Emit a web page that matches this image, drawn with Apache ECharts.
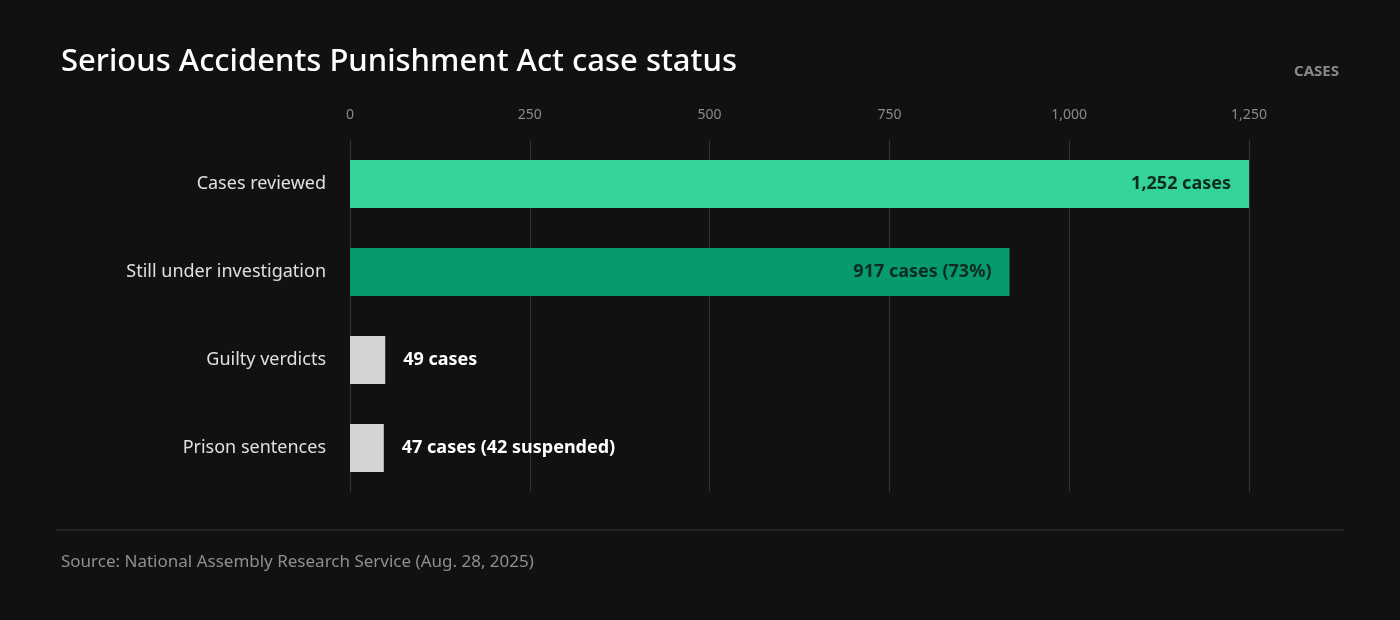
<!DOCTYPE html>
<html><head><meta charset="utf-8">
<script src="https://cdn.jsdelivr.net/npm/echarts@6/dist/echarts.min.js"></script>
<style>html,body{margin:0;background:#111111;}#c{width:1400px;height:620px;}</style>
</head><body><div id="c"></div>
<script>
const categories = ["Cases reviewed","Still under investigation","Guilty verdicts","Prison sentences"];
const values = [1252, 917, 49, 47];
const valueLabels = ["1,252 cases","917 cases (73%)","49 cases","47 cases (42 suspended)"];
const barColors = ["#34d399","#069a6c","#d4d4d4","#d4d4d4"];
const inside = [true,true,false,false];
const chart = echarts.init(document.getElementById('c'));
const F = "'Noto Sans', sans-serif";
chart.setOption({
  backgroundColor:'#111111',
  animation:false,
  title:[{text:'Serious Accidents Punishment Act case status',left:56,top:42,textStyle:{color:'#ffffff',fontSize:31,fontWeight:500,fontFamily:F}},
    {text:'CASES',right:56,top:59,textStyle:{color:'#8a8a8a',fontSize:15,fontWeight:'bold',fontFamily:F}},
    {text:'Source: National Assembly Research Service (Aug. 28, 2025)',left:56,top:549,textStyle:{color:'#8f8f8f',fontSize:17,fontWeight:'normal',fontFamily:F}}],
  graphic:[{type:'line',shape:{x1:56,y1:530,x2:1344,y2:530},style:{stroke:'#3a3a3a',lineWidth:1}}],
  grid:{left:350,right:151,top:140,bottom:128},
  xAxis:{type:'value',position:'top',min:0,max:1250,interval:250,
    axisLine:{show:false},axisTick:{show:false},
    axisLabel:{color:'#8a8a8a',fontSize:14,fontFamily:F,margin:18},
    splitLine:{lineStyle:{color:'#333333'}}},
  yAxis:{type:'category',data:categories,inverse:true,
    axisLine:{show:false},axisTick:{show:false},
    axisLabel:{color:'#e0e0e0',fontSize:18,fontFamily:F,margin:24}},
  series:[{type:'bar',barWidth:48,
    data:values.map((v,i)=>({value:v,itemStyle:{color:barColors[i]},
      label:{show:true,position:inside[i]?'insideRight':'right',distance:inside[i]?18:18,
        formatter:valueLabels[i],color:inside[i]?'#0d2b20':'#ffffff',fontSize:18,fontWeight:'bold',fontFamily:F}}))}]
});
</script></body></html>
